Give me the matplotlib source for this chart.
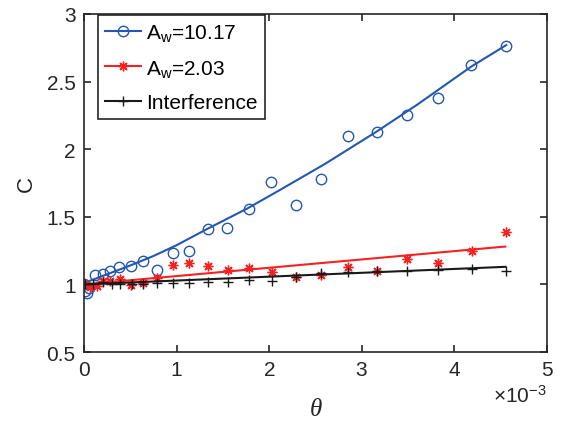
import matplotlib
matplotlib.use("Agg")
import matplotlib.pyplot as plt
from matplotlib.ticker import ScalarFormatter, FormatStrFormatter

plt.rcParams['font.family'] = ['Liberation Sans', 'DejaVu Sans']
plt.rcParams['mathtext.fontset'] = 'custom'
plt.rcParams['mathtext.rm'] = 'Liberation Sans'
plt.rcParams['mathtext.it'] = 'Liberation Serif:italic'

# theta values in units of 1e-3
th_blue = [0.0, 0.01, 0.03, 0.05, 0.12, 0.205, 0.28, 0.378, 0.508, 0.637, 0.788, 0.961,
           1.134, 1.339, 1.544, 1.78, 2.02, 2.29, 2.56, 2.85, 3.16, 3.49, 3.82, 4.18, 4.56]
c_blue = [1.0, 0.95, 0.94, 0.97, 1.067, 1.08, 1.096, 1.126, 1.133, 1.17, 1.11, 1.23,
          1.25, 1.407, 1.42, 1.56, 1.754, 1.584, 1.777, 2.095, 2.124, 2.25, 2.376, 2.62, 2.76]

th_red = [0.01, 0.065, 0.14, 0.205, 0.28, 0.39, 0.51, 0.637, 0.788, 0.961, 1.134, 1.339,
          1.555, 1.78, 2.03, 2.29, 2.56, 2.85, 3.16, 3.49, 3.82, 4.19, 4.56]
c_red = [1.0, 0.978, 0.985, 1.022, 1.022, 1.037, 0.993, 1.007, 1.044, 1.14, 1.155, 1.133,
         1.104, 1.118, 1.089, 1.052, 1.067, 1.126, 1.096, 1.185, 1.155, 1.25, 1.385]

th_blk = [0.01, 0.1, 0.2, 0.3, 0.39, 0.52, 0.64, 0.79, 0.96, 1.13, 1.34, 1.56, 1.78,
          2.03, 2.29, 2.56, 2.85, 3.16, 3.49, 3.82, 4.19, 4.56]
c_blk = [1.0, 1.0, 1.015, 1.0, 1.0, 1.0, 1.0, 1.007, 1.007, 1.007, 1.015, 1.015, 1.03,
         1.022, 1.052, 1.081, 1.089, 1.096, 1.096, 1.104, 1.111, 1.096]

# fitted curves
fit_blue_th = [0.0, 0.25, 0.5, 0.75, 1.0, 1.33, 1.76, 2.12, 2.6, 3.16, 3.6, 4.18, 4.56]
fit_blue_c = [1.01, 1.075, 1.14, 1.21, 1.29, 1.41, 1.56, 1.70, 1.89, 2.13, 2.33, 2.61, 2.77]
fit_red_th = [0.0, 4.55]
fit_red_c = [1.0, 1.28]
fit_blk_th = [0.0, 4.55]
fit_blk_c = [1.0, 1.13]

labels = [r'A$_{\rm w}$=10.17', r'A$_{\rm w}$=2.03', 'Interference']

blue = '#2357b0'
red = '#f52222'
blk = '#1a1a1a'
axcol = '#262626'

fig = plt.figure(figsize=(5.66, 4.27), dpi=100)
ax = fig.add_axes([0.1484, 0.1733, 0.8180, 0.7916])

e = 1e-3
ax.plot([t * e for t in th_blue], c_blue, 'o', color=blue, mfc='none', ms=7.5, mew=1.0)
ax.plot([t * e for t in fit_blue_th], fit_blue_c, '-', color=blue, lw=1.5)
ax.plot([t * e for t in th_red], c_red, ls='none', marker=(8, 2, 0), color=red, ms=7, mew=1.0)
ax.plot([t * e for t in fit_red_th], fit_red_c, '-', color=red, lw=1.5)
ax.plot([t * e for t in th_blk], c_blk, '+', color=blk, ms=7, mew=1.0)
ax.plot([t * e for t in fit_blk_th], fit_blk_c, '-', color=blk, lw=1.5)

# legend proxies (line + marker)
h1, = ax.plot([], [], '-o', color=blue, mfc='none', ms=7.5, mew=1.0, lw=1.5)
h2, = ax.plot([], [], '-', marker=(8, 2, 0), color=red, ms=7, mew=1.0, lw=1.5)
h3, = ax.plot([], [], '-+', color=blk, ms=7, mew=1.0, lw=1.5)
leg = ax.legend([h1, h2, h3], labels, loc='upper left', bbox_to_anchor=(0.03, 0.998),
                borderaxespad=0, fontsize=15, fancybox=False, framealpha=1,
                edgecolor=axcol, handlelength=1.7, handletextpad=0.25,
                labelspacing=0.7, borderpad=0.35)
leg.get_frame().set_linewidth(1.2)

ax.set_xlim(0, 5e-3)
ax.set_ylim(0.5, 3)
ax.set_xticks([0, 1e-3, 2e-3, 3e-3, 4e-3, 5e-3])
ax.set_yticks([0.5, 1, 1.5, 2, 2.5, 3])
ax.yaxis.set_major_formatter(FormatStrFormatter('%g'))
fmt = ScalarFormatter(useMathText=True)
fmt.set_powerlimits((-2, 2))
ax.xaxis.set_major_formatter(fmt)
ax.xaxis.get_offset_text().set_fontsize(15)
ax.xaxis.get_offset_text().set_color(axcol)

ax.tick_params(direction='in', length=5, width=1.2, labelsize=15, colors=axcol,
               top=True, right=True, pad=6)
for s in ax.spines.values():
    s.set_color(axcol)
    s.set_linewidth(1.2)

ax.set_xlabel(r'$\theta$', fontsize=18, color=axcol, labelpad=12)
ax.set_ylabel('C', fontsize=16, color=axcol, labelpad=7)

fig.savefig('out.png', dpi=100)
